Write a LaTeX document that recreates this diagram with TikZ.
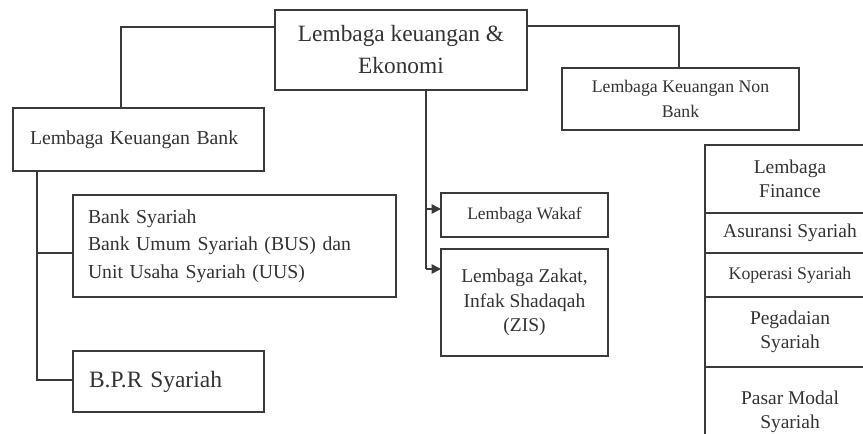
\documentclass[tikz,border=0pt]{standalone}
\usepackage{fontspec}
\setmainfont{Liberation Serif}
\usetikzlibrary{arrows.meta}
\definecolor{ln}{HTML}{3A3A3A}
\definecolor{tx}{HTML}{333333}
\tikzset{
  box/.style={draw=ln, line width=1.1pt, rectangle, inner ysep=0pt, outer sep=0pt, text=tx, align=center},
  lbox/.style={box, align=left},
  conn/.style={draw=ln, line width=1.1pt},
  arr/.style={conn, -{Triangle[length=7pt,width=7pt]}},
}
\begin{document}
\begin{tikzpicture}[x=0.75pt,y=-0.75pt]
\clip (0,0) rectangle (863,434);
\fill[white] (0,0) rectangle (863,434);
% main boxes
\node[box, minimum width=189pt, minimum height=60pt, font=\fontsize{17.5}{24}\selectfont] (top) at (401,50) {Lembaga keuangan \&\\Ekonomi};
\node[lbox, text width=162.75pt, inner xsep=12.75pt, minimum height=47.25pt, font=\fontsize{14.8}{18}\selectfont] (bank) at (138.5,139.5) {Lembaga Keuangan Bank};
\node[box, minimum width=177.75pt, minimum height=46.5pt, font=\fontsize{13.3}{18.5}\selectfont] (nonbank) at (680.5,99) {Lembaga Keuangan Non\\Bank};
\node[lbox, text width=219.75pt, inner xsep=11.25pt, minimum height=76.5pt, font=\fontsize{14.8}{20.6}\selectfont] (bsy) at (234.5,246) {Bank Syariah\\Bank Umum Syariah (BUS) dan\\Unit Usaha Syariah (UUS)};
\node[lbox, text width=119.25pt, inner xsep=12pt, minimum height=45.75pt, font=\fontsize{17.6}{21}\selectfont] (bpr) at (168.5,381.5) {B.P.R Syariah};
\node[box, minimum width=125.25pt, minimum height=33pt, font=\fontsize{13.1}{16}\selectfont] (wakaf) at (524.5,215) {Lembaga Wakaf};
\node[box, minimum width=125.25pt, minimum height=80.25pt, font=\fontsize{14.6}{18.4}\selectfont] (zis) at (524.5,302.5) {Lembaga Zakat,\\Infak Shadaqah\\(ZIS)};
% right stack
\node[box, minimum width=127.5pt, minimum height=51pt, font=\fontsize{14.6}{18.5}\selectfont] (fin) at (790,179) {Lembaga\\Finance};
\node[box, minimum width=127.5pt, minimum height=30pt, font=\fontsize{14.6}{18}\selectfont] (asu) at (790,233) {Asuransi Syariah};
\node[box, minimum width=127.5pt, minimum height=33pt, font=\fontsize{13.3}{16}\selectfont] (kop) at (790,275) {Koperasi Syariah};
\node[box, minimum width=127.5pt, minimum height=52.5pt, font=\fontsize{14.6}{18.5}\selectfont] (peg) at (790,332) {Pegadaian\\Syariah};
\node[box, minimum width=127.5pt, minimum height=67.5pt, font=\fontsize{14.6}{18.5}\selectfont] (pas) at (790,412) {Pasar Modal\\Syariah};
\draw[draw=ln, line width=2pt] (peg.south west) -- (peg.south east);
% connectors
\coordinate (tl) at (275,27);
\coordinate (bk) at (121,108);
\draw[conn] (tl) -| (bk);
\coordinate (tr) at (527,26);
\coordinate (nb) at (679,68);
\draw[conn] (tr) -| (nb);
\coordinate (vt) at (426,90);
\coordinate (v1) at (426,209);
\coordinate (v2) at (426,269);
\draw[conn] (vt) -- (v2);
\draw[arr] (v1) -- (v1 -| wakaf.west);
\draw[arr] (v2) -- (v2 -| zis.west);
\coordinate (b0) at (37,171);
\coordinate (b1) at (37,253);
\coordinate (b2) at (37,380);
\draw[conn] (b0) -- (b2) -- (b2 -| bpr.west);
\draw[conn] (b1) -- (b1 -| bsy.west);
\end{tikzpicture}
\end{document}
